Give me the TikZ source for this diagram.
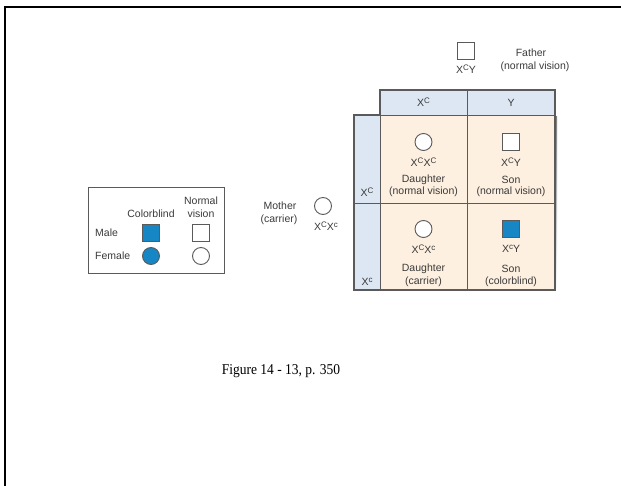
\documentclass[tikz,border=0pt]{standalone}
\usepackage{fontspec}
\setmainfont{Liberation Sans}
\newfontfamily\capserif[FakeStretch=0.9]{Liberation Serif}
\usetikzlibrary{positioning}
\definecolor{ink}{HTML}{3A3A3A}
\definecolor{gridline}{HTML}{5A5A5A}
\definecolor{headblue}{HTML}{DDE7F3}
\definecolor{cellpeach}{HTML}{FEF0E0}
\definecolor{cbblue}{HTML}{1687C4}
\definecolor{shade}{HTML}{E2E2E2}
% allele with a raised letter
\newcommand{\xa}[1]{X\raisebox{.55ex}{\fontsize{8}{8}\selectfont#1}}
\tikzset{
  lbl/.style={font=\fontsize{10.5}{12}\selectfont,text=ink,inner sep=0pt},
  malesym/.style={rectangle,draw=gridline,line width=.9pt,fill=white,
    minimum size=17pt,inner sep=0pt},
  femalesym/.style={circle,draw=gridline,line width=.9pt,fill=white,
    minimum size=17pt,inner sep=0pt},
  cbmale/.style={malesym,fill=cbblue},
  cbfemale/.style={femalesym,fill=cbblue},
  headcell/.style={rectangle,draw=gridline,line width=.8pt,fill=headblue,
    inner sep=0pt,lbl},
  bodycell/.style={rectangle,draw=gridline,line width=.8pt,fill=cellpeach,
    inner sep=0pt},
}

\begin{document}
\begin{tikzpicture}[x=1pt,y=-1pt]
\useasboundingbox (0,0) rectangle (621,486);
\draw[line width=2pt] (5,486) -- (5,7) -- (621,7);
% key
\node[draw=gridline,line width=.9pt,minimum width=136pt,minimum height=86pt,inner sep=0pt] (key) at (156,230) {};
\node[lbl] (knormal) at (201,201) {Normal};
\node[lbl] (kvision) at (201,214) {vision};
\node[lbl] (kcb) at (151,214) {Colorblind};
\node[lbl,anchor=west] (kmale) at (95,233) {Male};
\node[lbl,anchor=west] (kfemale) at (95,256) {Female};
\node[cbmale] (kmcb) at (151,233) {};
\node[malesym] (kmnv) at (201,233) {};
\node[cbfemale] (kfcb) at (151,256) {};
\node[femalesym] (kfnv) at (201,256) {};
% parents
\node[malesym] (father) at (466,51) {};
\node[lbl] (fathergt) at (466,69) {\xa{C}Y};
\node[lbl] (fathername) at (531,53) {Father};
\node[lbl] (fathernote) at (535,67) {(normal vision)};
\node[lbl] (mothername) at (280,206) {Mother};
\node[lbl] (mothernote) at (279,220) {(carrier)};
\node[femalesym] (mother) at (323,206) {};
\node[lbl] (mothergt) at (326,226) {\xa{C}\xa{c}};
% punnett square
\fill[shade] (382,117) rectangle (557,292);
\fill[shade] (356,117) rectangle (382,292);
\node[headcell,minimum width=87pt,minimum height=25pt] (hC) at (423.5,102.5) {\xa{C}};
\node[headcell,minimum width=88pt,minimum height=25pt] (hY) at (511,102.5) {Y};
\node[headcell,minimum width=26pt,minimum height=88pt] (vC) at (367,159) {};
\node[headcell,minimum width=26pt,minimum height=87pt] (vc) at (367,246.5) {};
\node[lbl] (vClbl) at (367,192) {\xa{C}};
\node[lbl] (vclbl) at (367,282) {\xa{c}};
\node[bodycell,minimum width=87pt,minimum height=88pt] (cCC) at (423.5,159) {};
\node[bodycell,minimum width=88pt,minimum height=88pt] (cCY) at (511,159) {};
\node[bodycell,minimum width=87pt,minimum height=87pt] (ccC) at (423.5,246.5) {};
\node[bodycell,minimum width=88pt,minimum height=87pt] (ccY) at (511,246.5) {};
\draw[gridline,line width=1.2pt] (354,290) -- (354,115) -- (380,115) -- (380,90) -- (555,90) -- (555,290) -- cycle;
% offspring
\node[femalesym] (d1) at (423.5,142) {};
\node[lbl] (d1gt) at (423.5,162) {\xa{C}\xa{C}};
\node[lbl] (d1a) at (423.5,180) {Daughter};
\node[lbl] (d1b) at (423.5,192) {(normal vision)};
\node[malesym] (s1) at (511,142) {};
\node[lbl] (s1gt) at (511,162) {\xa{C}Y};
\node[lbl] (s1a) at (511,180) {Son};
\node[lbl] (s1b) at (511,192) {(normal vision)};
\node[femalesym] (d2) at (423.5,229) {};
\node[lbl] (d2gt) at (423.5,249) {\xa{C}\xa{c}};
\node[lbl] (d2a) at (423.5,269) {Daughter};
\node[lbl] (d2b) at (423.5,282) {(carrier)};
\node[cbmale] (s2) at (511,229) {};
\node[lbl] (s2gt) at (511,249) {\xa{c}Y};
\node[lbl] (s2a) at (511,269) {Son};
\node[lbl] (s2b) at (511,282) {(colorblind)};
% caption
\node[font=\capserif\fontsize{15}{17}\selectfont] (cap) at (281,371) {Figure 14 - 13, p. 350};
\end{tikzpicture}
\end{document}
